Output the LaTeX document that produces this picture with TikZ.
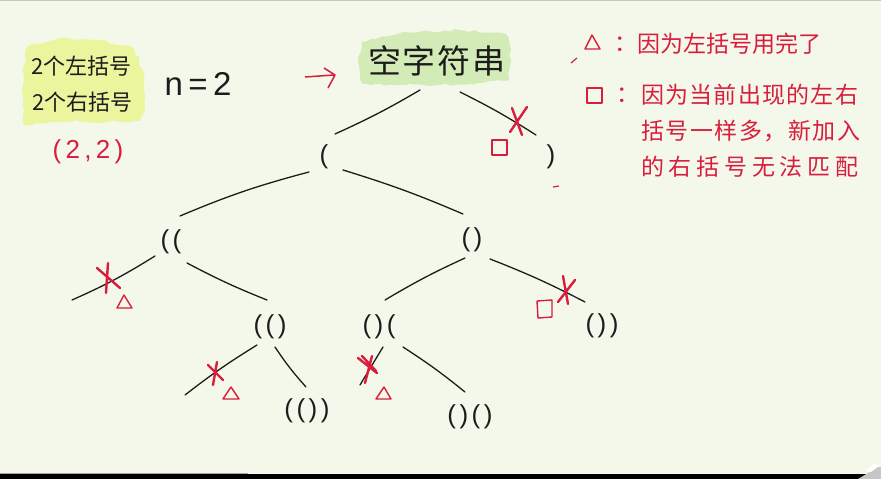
\documentclass[tikz,border=0pt]{standalone}
\usepackage{fontspec}
\setmainfont{Liberation Sans}
\newfontfamily\cjk{Noto Sans CJK SC}
\usetikzlibrary{decorations.pathmorphing}
\definecolor{bg}{HTML}{F4F8EB}
\definecolor{hlyellow}{HTML}{EBF59D}
\definecolor{hlgreen}{HTML}{D3EBB6}
\definecolor{inkred}{HTML}{D81E3C}
\definecolor{ink}{HTML}{1C1C1C}
\def\sploop#1{#1\futurelet\spnext\spcheck}
\def\spcheck{\ifx\spnext\relax\expandafter\spgobble\else\hfil\expandafter\sploop\fi}
\def\spgobble#1{}
\newcommand\spreadtext[2]{\makebox[#1][s]{\sploop#2\relax}}
\newcommand\pg{\hspace{3.5pt}}
\tikzset{
  paren/.style={font=\fontsize{26}{28}\selectfont, text=ink, inner sep=0pt},
  edge/.style={draw=ink, line width=1.3pt, line cap=round},
  redx/.style={draw=inkred, line width=2.4pt, line cap=round},
  redmark/.style={draw=inkred, line width=1.4pt, line join=round},
  cjkblack/.style={font=\cjk\fontsize{22}{24}\selectfont, text=ink, inner sep=0pt},
  legend/.style={font=\cjk\fontsize{23}{26}\selectfont, text=inkred, inner sep=0pt, anchor=west},
}
\begin{document}
\begin{tikzpicture}[x=1pt,y=-1pt]
\fill[bg] (0,0) rectangle (881,479);
\useasboundingbox (0,0) rectangle (881,479);
\draw[gray!45, line width=1pt] (0,0.5) -- (881,0.5);
% highlights
\fill[hlyellow, decorate, decoration={random steps, segment length=5pt, amplitude=1.5pt}]
  (28,46) -- (60,38) -- (100,40) -- (134,48) -- (143,70) -- (145,110) -- (140,121) -- (60,122) -- (24,125) -- (22,90) -- (25,56) -- cycle;
\fill[hlgreen, decorate, decoration={random steps, segment length=5pt, amplitude=1.5pt}]
  (362,42) -- (400,33) -- (460,30) -- (506,34) -- (511,50) -- (509,80) -- (470,84) -- (400,85) -- (362,84) -- (358,62) -- cycle;
% left notes
\node[cjkblack] (lefta) at (80,66) {\spreadtext{98pt}{2个左括号}};
\node[cjkblack] (leftb) at (81,102) {\spreadtext{98pt}{2个右括号}};
\node[font=\fontsize{26}{28}\selectfont, text=inkred, inner sep=0pt] (pair) at (88,152) {(\,2\,,\,2\,)};
\node[font=\fontsize{33}{36}\selectfont, text=ink, inner sep=0pt] (nval) at (198,84) {n\,=\,2};
% arrow
\draw[redmark, line width=1.5pt] (305,77) -- (334,75);
\draw[redmark, line width=1.5pt] (324,68) -- (335,75) -- (328,88);
% tree nodes
\node[font=\cjk\fontsize{33}{36}\selectfont, text=ink, inner sep=0pt] (root) at (437,61) {\spreadtext{138pt}{空字符串}};
\node[paren] (n1) at (324,157) {(};
\node[paren] (n2) at (551,157) {)};
\node[paren] (n3) at (171,242) {(\pg(};
\node[paren] (n4) at (472,240) {(\pg)};
\node[paren] (n6) at (270,327) {(\pg(\pg)};
\node[paren] (n7) at (379,327) {(\pg)\pg(};
\node[paren] (n8) at (602,326) {(\pg)\pg)};
\node[paren] (n9) at (307,411) {(\pg(\pg)\pg)};
\node[paren] (n10) at (470,417) {(\pg)\pg(\pg)};
\coordinate (d1) at (72,300);
\coordinate (d2) at (185,395);
\coordinate (d3) at (360,385);
% edges
\draw[edge] ([shift={(-17,29)}]root.center) to[bend left=3] ([shift={(11,-23)}]n1.center);
\draw[edge] ([shift={(23,31)}]root.center) to[bend left=3] ([shift={(-15,-22)}]n2.center);
\draw[edge] ([shift={(-15,15)}]n1.center) to[bend right=4] ([shift={(9,-26)}]n3.center);
\draw[edge] ([shift={(19,13)}]n1.center) to[bend left=3] ([shift={(-9,-26)}]n4.center);
\draw[edge] ([shift={(-16,14)}]n3.center) to[bend left=4] (d1);
\draw[edge] ([shift={(16,21)}]n3.center) to[bend right=3] ([shift={(-3,-27)}]n6.center);
\draw[edge] ([shift={(-7,18)}]n4.center) to[bend right=3] ([shift={(6,-27)}]n7.center);
\draw[edge] ([shift={(18,19)}]n4.center) to[bend left=3] ([shift={(-17,-24)}]n8.center);
\draw[edge] ([shift={(-13,18)}]n6.center) to[bend right=3] (d2);
\draw[edge] ([shift={(5,20)}]n6.center) to[bend right=4] ([shift={(-1,-24)}]n9.center);
\draw[edge] ([shift={(4,20)}]n7.center) -- (d3);
\draw[edge] ([shift={(24,20)}]n7.center) to[bend left=3] ([shift={(-5,-25)}]n10.center);
% red crosses
\draw[redx] (512,108) -- (522,135) (527,107) -- (510,132);
\draw[redx] (108,263) -- (106,293) (97,268) -- (120,288);
\draw[redx] (217,362) -- (213,385) (208,365) -- (223,380);
\draw[redx] (563,276) -- (568,304) (575,280) -- (558,302);
\draw[redx] (358,358) -- (377,373) (372,356) -- (365,383) (362,356) -- (376,371);
% triangles
\draw[redmark] (124,295) -- (132,308) -- (117,308) -- cycle;
\draw[redmark] (231,387) -- (239,399) -- (223,399) -- cycle;
\draw[redmark] (384,387) -- (391,399) -- (376,399) -- cycle;
% squares
\draw[redmark] (492,140) rectangle (507,155);
\draw[redmark] (537,301) -- (552,300) -- (552,317) -- (538,318) -- cycle;
% stray marks
\draw[redmark, line width=1.2pt] (571,63) -- (577,58);
\draw[redmark, line width=1.2pt] (553,187) -- (559,186);
% legend
\draw[redmark] (592,35) -- (600,49) -- (585,49) -- cycle;
\node[legend] (lc1) at (614,44) {：};
\node[legend] (lt1) at (637,44) {\spreadtext{181pt}{因为左括号用完了}};
\draw[redmark] (587,88) rectangle (602,103);
\node[legend] (lc2) at (616,95) {：};
\node[legend] (lt2) at (641,95) {\spreadtext{217pt}{因为当前出现的左右}};
\node[legend] (lt3) at (641,131) {\spreadtext{219pt}{括号一样多，新加入}};
\node[legend] (lt4) at (641,167) {\spreadtext{217pt}{的右括号无法匹配}};
% bottom bar
\fill[black] (0,473.5) rectangle (881,479);
\draw[gray!70, line width=1pt] (0,473) -- (248,473);
\fill[gray!45] (858,479) -- (878,467) -- (881,467) -- (881,479) -- cycle;
\fill[white] (866,471) -- (875,463) -- (879,466) -- (871,472) -- cycle;
\end{tikzpicture}
\end{document}
